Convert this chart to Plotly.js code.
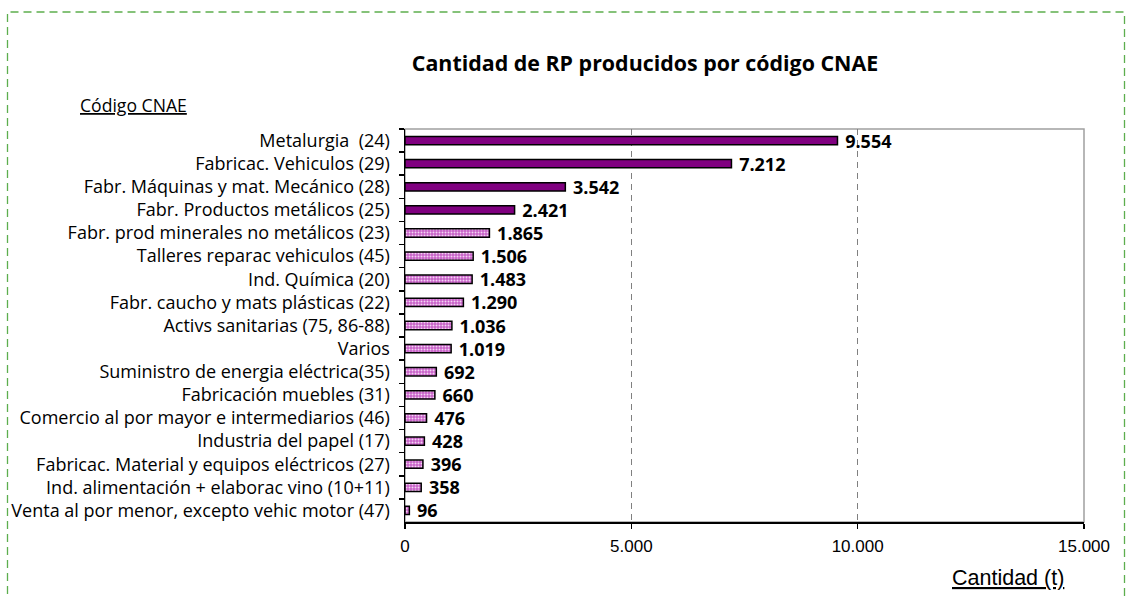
<!DOCTYPE html>
<html>
<head>
<meta charset="utf-8">
<script src="https://cdn.plot.ly/plotly-3.0.1.min.js"></script>
<style>
html,body{margin:0;padding:0;background:#fff;}
#chart{width:1126px;height:597px;}
</style>
</head>
<body>
<div id="chart"></div>
<script>
// ---- data ----
const categories = [
  "Metalurgia  (24)",
  "Fabricac. Vehiculos (29)",
  "Fabr. Máquinas y mat. Mecánico (28)",
  "Fabr. Productos metálicos (25)",
  "Fabr. prod minerales no metálicos (23)",
  "Talleres reparac vehiculos (45)",
  "Ind. Química (20)",
  "Fabr. caucho y mats plásticas (22)",
  "Activs sanitarias (75, 86-88)",
  "Varios",
  "Suministro de energia eléctrica(35)",
  "Fabricación muebles (31)",
  "Comercio al por mayor e intermediarios (46)",
  "Industria del papel (17)",
  "Fabricac. Material y equipos eléctricos (27)",
  "Ind. alimentación + elaborac vino (10+11)",
  "Venta al por menor, excepto vehic motor (47)"
];
const cantidad = [9554, 7212, 3542, 2421, 1865, 1506, 1483, 1290, 1036, 1019, 692, 660, 476, 428, 396, 358, 96];
const nSolid = 4; // first four bars are drawn solid
const xTickValues = [0, 5000, 10000, 15000];
const chartTitle = "Cantidad de RP producidos por código CNAE";
const yTitle = "Código CNAE";
const xTitle = "Cantidad (t)";

// ---- plot geometry ----
const W = 1126, H = 597;
const L = 405, R = 1084, T = 129, B = 522;
const pw = R - L, ph = B - T;
const px = v => (v - L) / pw;
const py = v => (B - v) / ph;

const textFont = {family: "Open Sans, sans-serif", size: 18, color: "#000"};

const solid = {
  type: "bar", orientation: "h",
  y: categories.slice(0, nSolid), x: cantidad.slice(0, nSolid),
  marker: {color: "#800080", line: {color: "#000", width: 1.5}},
  texttemplate: " <b>%{x:,d}</b>", textposition: "outside",
  textfont: textFont, cliponaxis: false, constraintext: "none",
  hoverinfo: "x+y"
};
const patterned = {
  type: "bar", orientation: "h",
  y: categories.slice(nSolid), x: cantidad.slice(nSolid),
  marker: {color: "#C860C8", line: {color: "#000", width: 1.5},
           pattern: {shape: ".", fgcolor: "#F4D4F4", bgcolor: "#C860C8", size: 3, solidity: 0.35}},
  texttemplate: " <b>%{x:,d}</b>", textposition: "outside",
  textfont: textFont, cliponaxis: false, constraintext: "none",
  hoverinfo: "x+y"
};

const layout = {
  width: W, height: H,
  margin: {l: L, r: W - R, t: T, b: H - B, pad: 0},
  paper_bgcolor: "#fff", plot_bgcolor: "#fff",
  separators: ",.",
  showlegend: false,
  barmode: "overlay",
  bargap: 0.64,
  font: {family: "Open Sans, sans-serif", color: "#000"},
  title: {
    text: "<b>" + chartTitle + "</b>",
    font: {family: "Open Sans, sans-serif", size: 21.4, color: "#000"},
    x: 645 / W, xanchor: "center", xref: "container",
    y: 1 - 64 / H, yanchor: "middle", yref: "container"
  },
  xaxis: {
    range: [0, 15000], tickvals: xTickValues, tickformat: ",d",
    separatethousands: true,
    showgrid: true, gridcolor: "#808080", gridwidth: 1, griddash: "6px,5px",
    zeroline: false,
    showline: true, linecolor: "#000", linewidth: 1.5,
    ticks: "outside", ticklen: 5, tickcolor: "#000", tickwidth: 1.5,
    ticklabelstandoff: 3,
    tickfont: {family: "Liberation Sans Narrow, Liberation Sans, Arial, sans-serif", size: 17, color: "#000"},
    fixedrange: true
  },
  yaxis: {
    type: "category", categoryorder: "array", categoryarray: categories,
    autorange: "reversed",
    showline: true, linecolor: "#000", linewidth: 1.5,
    ticks: "outside", ticklen: 5, tickcolor: "#000", tickwidth: 1.5,
    tickson: "boundaries",
    showgrid: false, zeroline: false,
    ticklabelstandoff: 10,
    tickfont: {family: "Open Sans, sans-serif", size: 18, color: "#000"},
    fixedrange: true
  },
  shapes: [
    {type: "rect", xref: "paper", yref: "paper", x0: 0, x1: 1, y0: 0, y1: 1,
     line: {color: "#A0A0A0", width: 1.5}, layer: "below"},
    {type: "rect", xref: "paper", yref: "paper",
     x0: px(7.5), x1: px(1124.5), y0: py(610), y1: py(12),
     line: {color: "#5DAE4E", width: 1.3, dash: "8px,5px"}, layer: "above"}
  ],
  annotations: [
    {text: "<u>" + yTitle + "</u>", xref: "paper", yref: "paper",
     x: px(133.5), y: py(105), xanchor: "center", yanchor: "middle", showarrow: false,
     font: {family: "Open Sans, sans-serif", size: 17.6, color: "#000"}},
    {text: "<u>" + xTitle + "</u>", xref: "paper", yref: "paper",
     x: px(1008), y: py(578), xanchor: "center", yanchor: "middle", showarrow: false,
     font: {family: "Liberation Sans Narrow, Liberation Sans, Arial, sans-serif", size: 21.5, color: "#000"}}
  ]
};

Plotly.newPlot("chart", [solid, patterned], layout, {displayModeBar: false, staticPlot: true});
</script>
</body>
</html>
